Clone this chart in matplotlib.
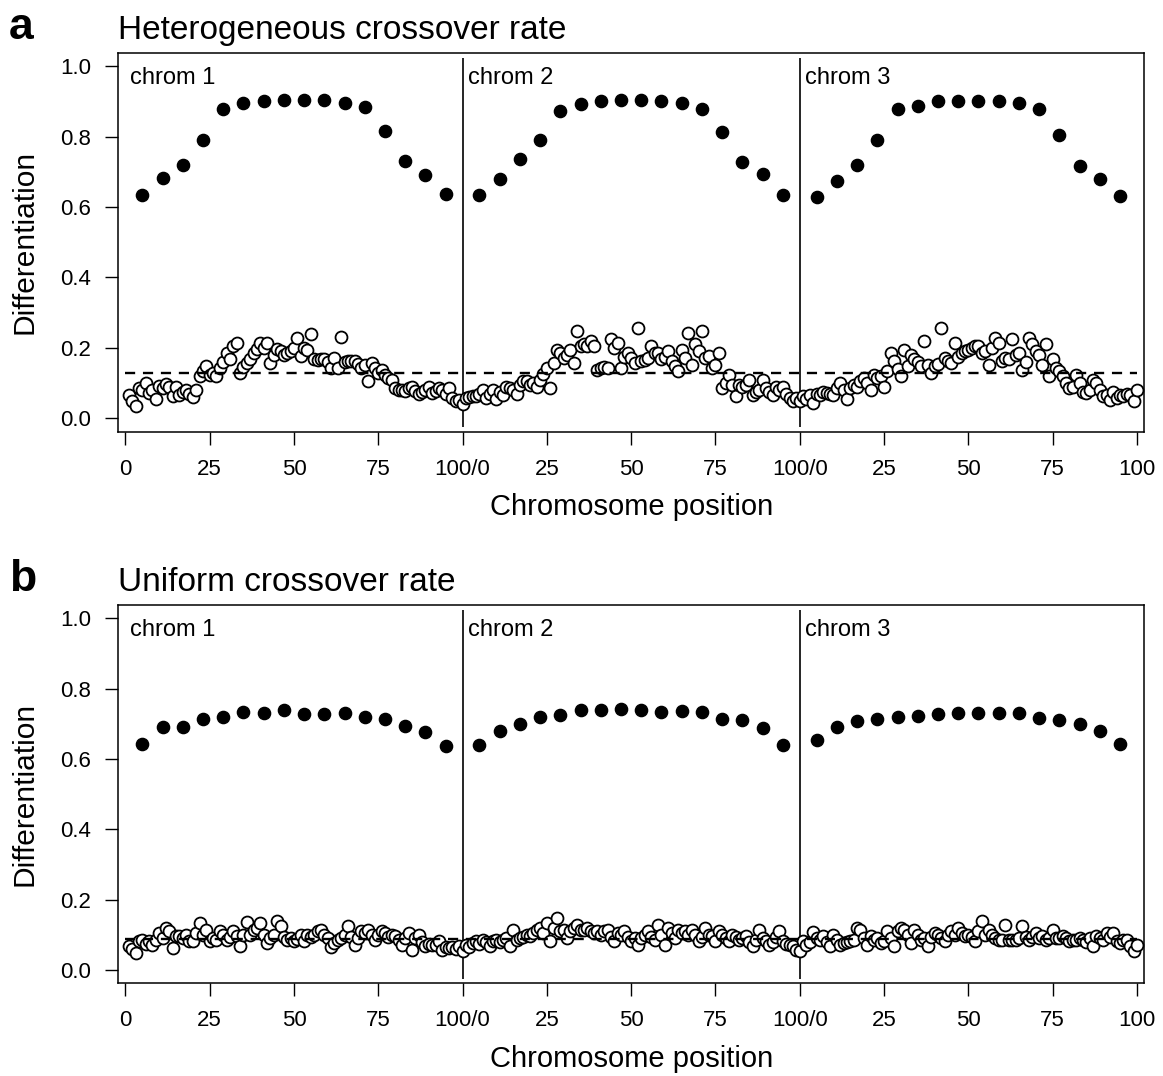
import matplotlib
matplotlib.use('Agg')
import matplotlib.pyplot as plt

plt.rcParams['font.family'] = ['Liberation Sans', 'DejaVu Sans']

# positions along each chromosome (0-100)
dot_pos = [5, 11, 17, 23, 29, 35, 41, 47, 53, 59, 65, 71, 77, 83, 89, 95]
loci = list(range(1, 101))
chroms = ['chrom 1', 'chrom 2', 'chrom 3']

# heterogeneous crossover rate: selected loci (filled)
het_sel_1 = [0.634, 0.682, 0.718, 0.790, 0.877, 0.896, 0.901, 0.903, 0.905, 0.903, 0.894, 0.883, 0.816, 0.730, 0.690, 0.637]
het_sel_2 = [0.635, 0.680, 0.735, 0.790, 0.872, 0.893, 0.900, 0.903, 0.903, 0.900, 0.895, 0.878, 0.813, 0.728, 0.695, 0.635]
het_sel_3 = [0.627, 0.675, 0.720, 0.790, 0.877, 0.888, 0.900, 0.900, 0.900, 0.900, 0.895, 0.878, 0.805, 0.715, 0.680, 0.632]

# heterogeneous crossover rate: neutral loci (open)
het_neu_1 = [0.067, 0.05, 0.035, 0.086, 0.08, 0.10, 0.073, 0.08, 0.054, 0.092,
             0.085, 0.097, 0.088, 0.064, 0.09, 0.067, 0.075, 0.081, 0.07, 0.06,
             0.081, 0.119, 0.135, 0.148, 0.124, 0.13, 0.119, 0.143, 0.16, 0.186,
             0.167, 0.205, 0.214, 0.129, 0.145, 0.157, 0.167, 0.186, 0.197, 0.214,
             0.2, 0.214, 0.157, 0.181, 0.197, 0.19, 0.18, 0.186, 0.19, 0.2,
             0.229, 0.178, 0.2, 0.195, 0.238, 0.169, 0.165, 0.169, 0.167, 0.16,
             0.143, 0.171, 0.143, 0.231, 0.16, 0.162, 0.162, 0.162, 0.155, 0.143,
             0.15, 0.105, 0.157, 0.143, 0.129, 0.138, 0.124, 0.115, 0.11, 0.086,
             0.081, 0.081, 0.078, 0.086, 0.09, 0.078, 0.07, 0.075, 0.081, 0.09,
             0.071, 0.078, 0.086, 0.08, 0.07, 0.086, 0.057, 0.05, 0.052, 0.04]
het_neu_2 = [0.057, 0.06, 0.062, 0.062, 0.07, 0.081, 0.057, 0.07, 0.081, 0.054,
             0.075, 0.067, 0.09, 0.086, 0.08, 0.07, 0.095, 0.105, 0.105, 0.095,
             0.1, 0.09, 0.11, 0.125, 0.143, 0.086, 0.157, 0.195, 0.186, 0.17,
             0.181, 0.195, 0.157, 0.248, 0.205, 0.21, 0.205, 0.219, 0.205, 0.138,
             0.143, 0.145, 0.143, 0.224, 0.2, 0.214, 0.143, 0.175, 0.186, 0.171,
             0.157, 0.257, 0.162, 0.165, 0.171, 0.205, 0.186, 0.186, 0.167, 0.175,
             0.19, 0.162, 0.148, 0.133, 0.195, 0.17, 0.243, 0.152, 0.21, 0.19,
             0.248, 0.17, 0.176, 0.143, 0.152, 0.186, 0.086, 0.1, 0.124, 0.095,
             0.064, 0.095, 0.09, 0.095, 0.11, 0.067, 0.076, 0.081, 0.11, 0.085,
             0.075, 0.067, 0.09, 0.081, 0.09, 0.07, 0.057, 0.048, 0.057, 0.05]
het_neu_3 = [0.062, 0.055, 0.067, 0.043, 0.07, 0.067, 0.076, 0.073, 0.07, 0.067,
             0.085, 0.1, 0.081, 0.054, 0.086, 0.095, 0.09, 0.105, 0.114, 0.1,
             0.081, 0.124, 0.115, 0.12, 0.09, 0.133, 0.186, 0.162, 0.14, 0.119,
             0.195, 0.148, 0.181, 0.167, 0.16, 0.148, 0.219, 0.152, 0.129, 0.148,
             0.155, 0.257, 0.17, 0.162, 0.157, 0.214, 0.175, 0.186, 0.19, 0.195,
             0.2, 0.205, 0.205, 0.186, 0.19, 0.152, 0.2, 0.229, 0.214, 0.162,
             0.17, 0.167, 0.224, 0.181, 0.186, 0.138, 0.16, 0.229, 0.21, 0.19,
             0.18, 0.152, 0.21, 0.119, 0.167, 0.143, 0.135, 0.119, 0.1, 0.086,
             0.09, 0.124, 0.1, 0.076, 0.071, 0.081, 0.11, 0.1, 0.08, 0.062,
             0.065, 0.052, 0.076, 0.057, 0.067, 0.062, 0.07, 0.067, 0.048, 0.081]
het_mean = 0.128

# uniform crossover rate: selected loci (filled)
uni_sel_1 = [0.643, 0.690, 0.690, 0.713, 0.720, 0.733, 0.730, 0.740, 0.728, 0.727, 0.730, 0.720, 0.713, 0.695, 0.678, 0.638]
uni_sel_2 = [0.640, 0.680, 0.700, 0.720, 0.725, 0.740, 0.738, 0.742, 0.738, 0.735, 0.737, 0.733, 0.715, 0.710, 0.688, 0.640]
uni_sel_3 = [0.655, 0.690, 0.708, 0.715, 0.720, 0.723, 0.728, 0.732, 0.732, 0.730, 0.732, 0.717, 0.710, 0.700, 0.680, 0.643]

# uniform crossover rate: neutral loci (open)
uni_neu_1 = [0.068, 0.06, 0.048, 0.081, 0.084, 0.075, 0.081, 0.072, 0.085, 0.105,
             0.09, 0.12, 0.11, 0.062, 0.096, 0.096, 0.09, 0.1, 0.081, 0.081,
             0.105, 0.134, 0.1, 0.115, 0.081, 0.09, 0.086, 0.11, 0.1, 0.086,
             0.095, 0.11, 0.096, 0.069, 0.1, 0.136, 0.1, 0.115, 0.12, 0.134,
             0.1, 0.077, 0.091, 0.1, 0.139, 0.124, 0.095, 0.086, 0.09, 0.081,
             0.088, 0.1, 0.081, 0.1, 0.095, 0.1, 0.11, 0.115, 0.1, 0.091,
             0.065, 0.077, 0.086, 0.09, 0.1, 0.126, 0.095, 0.072, 0.09, 0.11,
             0.105, 0.115, 0.1, 0.086, 0.1, 0.11, 0.105, 0.095, 0.1, 0.096,
             0.085, 0.072, 0.09, 0.105, 0.057, 0.09, 0.1, 0.08, 0.067, 0.075,
             0.072, 0.07, 0.081, 0.057, 0.065, 0.062, 0.065, 0.06, 0.067, 0.053]
uni_neu_2 = [0.072, 0.065, 0.077, 0.081, 0.075, 0.086, 0.08, 0.067, 0.081, 0.086,
             0.08, 0.086, 0.09, 0.067, 0.115, 0.085, 0.091, 0.095, 0.1, 0.096,
             0.105, 0.115, 0.12, 0.105, 0.134, 0.081, 0.12, 0.148, 0.11, 0.115,
             0.091, 0.11, 0.12, 0.129, 0.115, 0.115, 0.12, 0.11, 0.105, 0.11,
             0.1, 0.11, 0.115, 0.095, 0.081, 0.105, 0.1, 0.11, 0.095, 0.081,
             0.091, 0.072, 0.09, 0.1, 0.11, 0.095, 0.086, 0.129, 0.1, 0.072,
             0.12, 0.105, 0.091, 0.115, 0.105, 0.11, 0.1, 0.115, 0.1, 0.081,
             0.095, 0.12, 0.1, 0.096, 0.081, 0.11, 0.1, 0.09, 0.081, 0.1,
             0.095, 0.086, 0.09, 0.096, 0.08, 0.067, 0.085, 0.115, 0.09, 0.081,
             0.072, 0.08, 0.095, 0.11, 0.081, 0.075, 0.072, 0.067, 0.057, 0.053]
uni_neu_3 = [0.081, 0.072, 0.08, 0.107, 0.09, 0.086, 0.096, 0.08, 0.067, 0.1,
             0.085, 0.072, 0.077, 0.08, 0.081, 0.085, 0.12, 0.115, 0.09, 0.072,
             0.096, 0.085, 0.09, 0.077, 0.081, 0.11, 0.09, 0.067, 0.11, 0.12,
             0.115, 0.1, 0.077, 0.115, 0.1, 0.086, 0.091, 0.067, 0.095, 0.105,
             0.1, 0.09, 0.081, 0.1, 0.11, 0.1, 0.12, 0.105, 0.096, 0.1,
             0.095, 0.081, 0.11, 0.139, 0.1, 0.115, 0.1, 0.091, 0.085, 0.085,
             0.129, 0.086, 0.085, 0.086, 0.09, 0.124, 0.095, 0.086, 0.095, 0.105,
             0.09, 0.096, 0.085, 0.09, 0.115, 0.091, 0.09, 0.096, 0.09, 0.081,
             0.085, 0.086, 0.09, 0.086, 0.08, 0.09, 0.067, 0.096, 0.09, 0.085,
             0.105, 0.095, 0.105, 0.081, 0.077, 0.085, 0.086, 0.067, 0.053, 0.072]
uni_mean = 0.088

xtick_vals = [0, 25, 50, 75, 100, 125, 150, 175, 200, 225, 250, 275, 300]
xtick_labels = ['0', '25', '50', '75', '100/0', '25', '50', '75', '100/0', '25', '50', '75', '100']
ytick_vals = [0.0, 0.2, 0.4, 0.6, 0.8, 1.0]
ytick_labels = ['0.0', '0.2', '0.4', '0.6', '0.8', '1.0']

W, H = 1163, 1076
fig = plt.figure(figsize=(W / 100, H / 100), dpi=100)


def draw_panel(rect, letter, title, sel, neu, mean):
    ax = fig.add_axes(rect)
    for c in range(3):
        xs = [100 * c + p for p in loci]
        ax.plot(xs, neu[c], 'o', ms=8.6, mfc='white', mec='black', mew=1.3, zorder=3)
        xd = [100 * c + p for p in dot_pos]
        ax.plot(xd, sel[c], 'o', ms=8.8, color='black', zorder=4)
        ax.text(100 * c + 1.5, 0.998, chroms[c], fontsize=17, va='top', ha='left')
    ax.vlines([100, 200], -0.025, 1.023, color='black', lw=1.2, zorder=2)
    ax.hlines(mean, 0, 300, color='black', lw=1.7, linestyles=(0, (4.3, 3.3)), zorder=5)
    ax.set_xlim(-2.2, 302.2)
    ax.set_ylim(-0.038, 1.038)
    ax.set_xticks(xtick_vals)
    ax.set_xticklabels(xtick_labels)
    ax.set_yticks(ytick_vals)
    ax.set_yticklabels(ytick_labels)
    ax.tick_params(direction='out', length=9.5, width=1.0, labelsize=16, pad=10)
    for s in ax.spines.values():
        s.set_linewidth(1.1)
    ax.set_xlabel('Chromosome position', fontsize=21)
    ax.xaxis.set_label_coords(0.5, -0.163)
    ax.set_ylabel('Differentiation', fontsize=21.5)
    ax.yaxis.set_label_coords(-0.077, 0.5)
    top_px = (1 - rect[1] - rect[3]) * H
    fig.text(118 / W, 1 - (top_px - 14) / H, title, fontsize=24, ha='left', va='baseline')
    fig.text(9 / W, 1 - (top_px - 14) / H, letter, fontsize=32, weight='bold', ha='left', va='baseline')
    return ax


ax_w = (1144.3 - 118) / W
draw_panel([118 / W, 1 - 431.7 / H, ax_w, 379 / H], 'a', 'Heterogeneous crossover rate',
           [het_sel_1, het_sel_2, het_sel_3], [het_neu_1, het_neu_2, het_neu_3], het_mean)
draw_panel([118 / W, 1 - 983.3 / H, ax_w, 378.3 / H], 'b', 'Uniform crossover rate',
           [uni_sel_1, uni_sel_2, uni_sel_3], [uni_neu_1, uni_neu_2, uni_neu_3], uni_mean)

fig.savefig('out.png', dpi=100)
